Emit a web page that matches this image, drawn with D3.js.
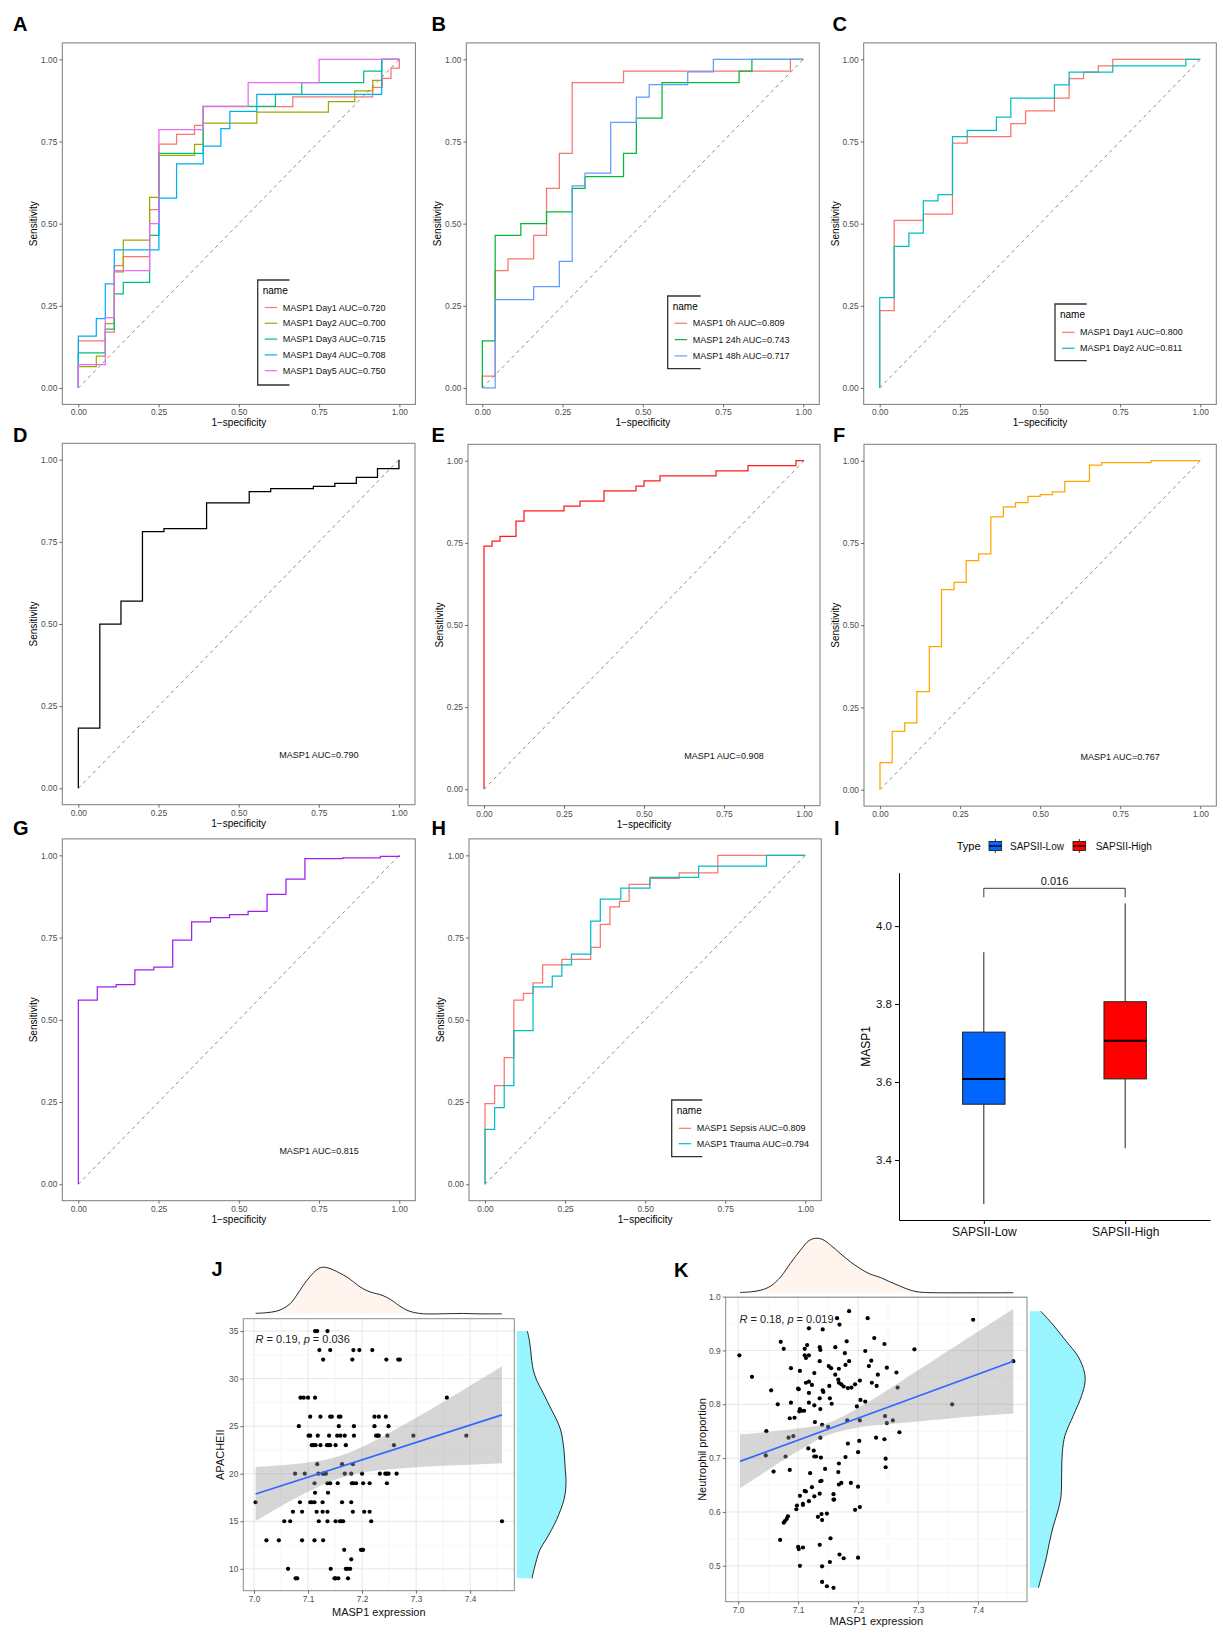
<!DOCTYPE html>
<html>
<head>
<meta charset="utf-8">
<title>MASP1 ROC, boxplot and correlation panels</title>
<script src="https://cdn.jsdelivr.net/npm/d3@7/dist/d3.min.js"></script>
<style>
  html, body { margin: 0; padding: 0; background: #fff; }
  svg { display: block; }
</style>
</head>
<body>
<svg id="fig" width="1223" height="1641"></svg>
<script>
// ---------------- ROC curves: step vertices [1-specificity, sensitivity] ----------------
// Each vertex is the end of a horizontal run at the given sensitivity level.
const rocA_day1 = [[0.084,0.143],[0.112,0.170],[0.140,0.372],[0.222,0.400],[0.251,0.543],[0.306,0.742],[0.362,0.772],[0.389,0.799],[0.668,0.856],[0.917,0.886],[0.947,0.915],[0.974,0.942],[1,0.973],[1,1]];
const rocA_day2 = [[0.056,0.065],[0.084,0.097],[0.112,0.196],[0.140,0.353],[0.222,0.450],[0.251,0.580],[0.362,0.708],[0.389,0.741],[0.556,0.806],[0.779,0.839],[0.861,0.871],[0.917,0.904],[0.945,0.936],[1,1]];
const rocA_day3 = [[0.084,0.107],[0.112,0.179],[0.140,0.286],[0.222,0.321],[0.251,0.464],[0.389,0.714],[0.614,0.857],[0.696,0.893],[0.889,0.929],[0.945,0.964],[1,1]];
const rocA_day4 = [[0.056,0.158],[0.084,0.211],[0.112,0.317],[0.251,0.420],[0.306,0.578],[0.389,0.682],[0.444,0.736],[0.472,0.789],[0.556,0.842],[0.945,0.893],[1,1]];
const rocA_day5 = [[0.084,0.071],[0.112,0.214],[0.222,0.357],[0.251,0.500],[0.389,0.786],[0.529,0.857],[0.750,0.929],[1,1]];
const legendA = ["MASP1 Day1 AUC=0.720","MASP1 Day2 AUC=0.700","MASP1 Day3 AUC=0.715","MASP1 Day4 AUC=0.708","MASP1 Day5 AUC=0.750"];

const rocB_0h  = [[0.04,0.036],[0.08,0.357],[0.16,0.393],[0.20,0.464],[0.24,0.607],[0.28,0.714],[0.44,0.929],[0.96,0.964],[1,1]];
const rocB_24h = [[0.04,0.143],[0.12,0.464],[0.20,0.500],[0.28,0.536],[0.32,0.607],[0.44,0.643],[0.48,0.714],[0.56,0.821],[0.80,0.929],[0.84,0.964],[1,1]];
const rocB_48h = [[0.04,0],[0.16,0.269],[0.24,0.308],[0.28,0.385],[0.32,0.615],[0.40,0.654],[0.48,0.808],[0.52,0.885],[0.64,0.923],[0.72,0.962],[1,1]];
const legendB = ["MASP1 0h AUC=0.809","MASP1 24h AUC=0.743","MASP1 48h AUC=0.717"];

const rocC_day1 = [[0.045,0.235],[0.136,0.510],[0.227,0.529],[0.273,0.745],[0.409,0.765],[0.455,0.804],[0.545,0.843],[0.591,0.882],[0.636,0.941],[0.682,0.961],[0.727,0.980],[1,1]];
const rocC_day2 = [[0.045,0.275],[0.091,0.431],[0.136,0.471],[0.182,0.569],[0.227,0.588],[0.273,0.765],[0.364,0.784],[0.409,0.824],[0.545,0.882],[0.591,0.922],[0.727,0.961],[0.955,0.980],[1,1]];
const legendC = ["MASP1 Day1 AUC=0.800","MASP1 Day2 AUC=0.811"];

const rocD = [[0.067,0.183],[0.133,0.500],[0.200,0.570],[0.267,0.781],[0.400,0.790],[0.533,0.869],[0.600,0.903],[0.733,0.912],[0.800,0.919],[0.867,0.928],[0.933,0.946],[1,0.973],[1,1]];
const rocE = [[0.025,0.740],[0.050,0.755],[0.100,0.770],[0.125,0.816],[0.250,0.847],[0.300,0.862],[0.375,0.877],[0.475,0.908],[0.500,0.923],[0.550,0.939],[0.725,0.954],[0.825,0.969],[0.975,0.985],[1,1]];
const rocF = [[0.038,0.082],[0.077,0.177],[0.115,0.203],[0.154,0.298],[0.192,0.435],[0.231,0.608],[0.269,0.630],[0.308,0.696],[0.346,0.717],[0.385,0.829],[0.423,0.860],[0.462,0.873],[0.500,0.892],[0.538,0.897],[0.577,0.905],[0.654,0.937],[0.692,0.987],[0.846,0.994],[1,1]];
const rocG = [[0.059,0.560],[0.118,0.600],[0.176,0.607],[0.235,0.652],[0.294,0.660],[0.353,0.742],[0.412,0.798],[0.471,0.811],[0.529,0.820],[0.588,0.830],[0.647,0.881],[0.706,0.928],[0.824,0.990],[0.941,0.992],[1,0.997],[1,1]];
const aucLabels = {D: "MASP1 AUC=0.790", E: "MASP1 AUC=0.908", F: "MASP1 AUC=0.767", G: "MASP1 AUC=0.815"};

const rocH_sepsis = [[0.03,0.245],[0.06,0.300],[0.09,0.385],[0.12,0.560],[0.15,0.580],[0.18,0.612],[0.24,0.667],[0.33,0.684],[0.36,0.720],[0.39,0.790],[0.42,0.843],[0.45,0.860],[0.515,0.912],[0.606,0.930],[0.727,0.947],[1,1]];
const rocH_trauma = [[0.03,0.167],[0.06,0.233],[0.09,0.300],[0.15,0.467],[0.21,0.600],[0.24,0.633],[0.27,0.667],[0.33,0.700],[0.36,0.800],[0.424,0.867],[0.515,0.900],[0.667,0.933],[0.879,0.967],[1,1]];
const legendH = ["MASP1 Sepsis AUC=0.809","MASP1 Trauma AUC=0.794"];

const rocTicks = [0, 0.25, 0.5, 0.75, 1];

// ---------------- Boxplot: MASP1 by SAPSII group ----------------
const boxGroups = ["SAPSII-Low", "SAPSII-High"];
const boxMin = [3.287, 3.430];
const boxQ1  = [3.543, 3.608];
const boxMed = [3.608, 3.706];
const boxQ3  = [3.728, 3.806];
const boxMax = [3.933, 4.058];
const boxFill = ["#0066FF", "#FF0000"];
const boxTicks = [3.4, 3.6, 3.8, 4.0];
const boxPLabel = "0.016";

// ---------------- Scatter J: APACHE II vs MASP1 expression ----------------
// [APACHE II score, MASP1 expression of the patients with that score]
const apacheRows = [
  [35, [7.113, 7.117, 7.136]],
  [33, [7.121, 7.141, 7.184, 7.195, 7.219]],
  [32, [7.128, 7.182, 7.245, 7.267, 7.270]],
  [28, [7.086, 7.092, 7.100, 7.113, 7.357]],
  [26, [7.104, 7.123, 7.141, 7.144, 7.157, 7.160, 7.223, 7.231, 7.244]],
  [25, [7.083, 7.157, 7.185, 7.223, 7.249]],
  [24, [7.101, 7.104, 7.118, 7.139, 7.154, 7.160, 7.168, 7.185, 7.226, 7.229, 7.231, 7.247, 7.295, 7.393]],
  [23, [7.107, 7.110, 7.114, 7.123, 7.135, 7.138, 7.141, 7.151, 7.170, 7.259]],
  [21, [7.117, 7.163, 7.183]],
  [20, [7.076, 7.094, 7.119, 7.127, 7.130, 7.133, 7.168, 7.180, 7.200, 7.233, 7.243, 7.246, 7.249, 7.264]],
  [19, [7.112, 7.136, 7.141, 7.155, 7.181, 7.184, 7.189, 7.202, 7.214, 7.246]],
  [18, [7.113, 7.137]],
  [17, [7.003, 7.085, 7.104, 7.107, 7.112, 7.127, 7.163, 7.180]],
  [16, [7.072, 7.089, 7.116, 7.127, 7.136, 7.183, 7.204, 7.214]],
  [15, [7.056, 7.067, 7.120, 7.136, 7.151, 7.159, 7.162, 7.165, 7.217, 7.459]],
  [13, [7.023, 7.046, 7.089, 7.112, 7.128]],
  [12, [7.167, 7.198, 7.200, 7.202]],
  [11, [7.180]],
  [10, [7.063, 7.142, 7.170, 7.173, 7.178]],
  [9,  [7.077, 7.080, 7.149, 7.151, 7.156, 7.174]]
];
// linear fit with 95% band: [MASP1, fit, lower, upper]
const fitJ = [[7.003,17.87,15.04,20.70],[7.05,18.73,16.58,20.88],[7.10,19.64,18.11,21.17],[7.15,20.55,19.37,21.73],[7.20,21.46,20.10,22.82],[7.25,22.37,20.46,24.28],[7.30,23.28,20.67,25.89],[7.35,24.19,20.83,27.55],[7.40,25.10,20.95,29.25],[7.459,26.19,21.09,31.29]];
// marginal densities (relative height)
const densTopJ = [[7.003,0.014],[7.023,0.028],[7.042,0.062],[7.054,0.118],[7.067,0.222],[7.079,0.403],[7.091,0.611],[7.104,0.806],[7.116,0.944],[7.125,1.0],[7.135,0.993],[7.147,0.944],[7.159,0.875],[7.172,0.792],[7.184,0.688],[7.196,0.583],[7.209,0.50],[7.221,0.451],[7.233,0.417],[7.246,0.354],[7.258,0.271],[7.270,0.167],[7.283,0.083],[7.295,0.035],[7.314,0.004],[7.338,0.002],[7.363,0.008],[7.388,0.012],[7.412,0.004],[7.437,0.002],[7.459,0.004]];
const densRightJ = [[35,0.216],[34.02,0.257],[32.98,0.284],[31.93,0.304],[30.88,0.338],[29.83,0.405],[28.79,0.507],[27.74,0.608],[26.69,0.709],[25.65,0.811],[24.60,0.892],[23.55,0.932],[22.51,0.959],[21.46,0.973],[20.41,0.986],[19.37,1.0],[18.32,0.993],[17.27,0.959],[16.22,0.892],[15.18,0.811],[14.13,0.709],[13.08,0.595],[12.04,0.473],[10.99,0.405],[9.94,0.351],[9,0.311]];
const statJ = ["0.19", "0.036"];

// ---------------- Scatter K: neutrophil proportion vs MASP1 expression ----------------
const neutroPoints = [
  [7.165,0.960],[7.185,0.973],[7.216,0.960],[7.169,0.948],[7.118,0.941],[7.141,0.939],[7.392,0.957],[7.227,0.923],
  [7.071,0.916],[7.181,0.917],[7.244,0.912],[7.115,0.910],[7.136,0.906],[7.162,0.906],[7.076,0.903],[7.111,0.903],
  [7.137,0.901],[7.212,0.899],[7.294,0.902],[7.111,0.891],[7.113,0.886],[7.118,0.891],[7.002,0.891],[7.178,0.895],
  [7.136,0.880],[7.185,0.880],[7.222,0.881],[7.459,0.880],[7.179,0.873],[7.151,0.871],[7.155,0.867],[7.218,0.871],
  [7.248,0.868],[7.088,0.867],[7.168,0.866],[7.103,0.862],[7.127,0.858],[7.264,0.859],[7.233,0.855],[7.162,0.855],
  [7.023,0.851],[7.100,0.829],[7.101,0.828],[7.167,0.846],[7.168,0.840],[7.113,0.840],[7.118,0.842],[7.123,0.836],
  [7.195,0.837],[7.203,0.844],[7.223,0.840],[7.172,0.837],[7.152,0.834],[7.176,0.833],[7.183,0.830],[7.189,0.831],
  [7.231,0.834],[7.266,0.831],[7.055,0.826],[7.141,0.826],[7.142,0.823],[7.118,0.821],[7.136,0.811],[7.153,0.811],
  [7.204,0.808],[7.212,0.805],[7.088,0.803],[7.066,0.800],[7.118,0.803],[7.127,0.798],[7.156,0.801],[7.198,0.796],
  [7.357,0.800],[7.137,0.791],[7.103,0.791],[7.102,0.787],[7.106,0.788],[7.110,0.788],[7.245,0.778],[7.086,0.774],
  [7.094,0.775],[7.182,0.770],[7.203,0.770],[7.258,0.770],[7.128,0.767],[7.140,0.762],[7.248,0.765],[7.150,0.758],
  [7.047,0.750],[7.269,0.748],[7.092,0.741],[7.084,0.738],[7.137,0.738],[7.230,0.738],[7.244,0.735],[7.202,0.732],
  [7.183,0.727],[7.117,0.718],[7.126,0.714],[7.200,0.711],[7.046,0.705],[7.079,0.703],[7.127,0.703],[7.130,0.703],
  [7.138,0.701],[7.179,0.702],[7.246,0.699],[7.168,0.690],[7.246,0.683],[7.145,0.680],[7.086,0.678],[7.059,0.675],
  [7.167,0.674],[7.120,0.672],[7.137,0.657],[7.139,0.658],[7.168,0.651],[7.172,0.654],[7.188,0.654],[7.123,0.646],
  [7.200,0.647],[7.111,0.639],[7.113,0.638],[7.159,0.633],[7.136,0.634],[7.127,0.629],[7.103,0.630],[7.159,0.623],
  [7.160,0.623],[7.118,0.620],[7.108,0.615],[7.108,0.613],[7.098,0.612],[7.203,0.609],[7.195,0.604],[7.097,0.605],
  [7.148,0.597],[7.139,0.596],[7.133,0.591],[7.083,0.592],[7.140,0.585],[7.081,0.587],[7.078,0.583],[7.076,0.580],
  [7.154,0.551],[7.070,0.548],[7.136,0.539],[7.100,0.535],[7.101,0.531],[7.108,0.534],[7.169,0.521],[7.176,0.514],
  [7.200,0.515],[7.153,0.507],[7.103,0.500],[7.140,0.499],[7.140,0.470],[7.148,0.462],[7.159,0.459]
];
const fitK = [[7.003,0.694,0.644,0.744],[7.05,0.7136,0.678,0.749],[7.10,0.734,0.713,0.755],[7.15,0.7544,0.743,0.765],[7.20,0.7748,0.757,0.793],[7.25,0.7952,0.763,0.827],[7.30,0.8156,0.768,0.863],[7.35,0.836,0.773,0.899],[7.40,0.8564,0.778,0.935],[7.459,0.880,0.783,0.977]];
const densTopK = [[7.003,0.006],[7.021,0.018],[7.038,0.049],[7.054,0.123],[7.071,0.294],[7.087,0.540],[7.104,0.785],[7.118,0.957],[7.129,1.0],[7.140,0.982],[7.154,0.877],[7.170,0.724],[7.187,0.571],[7.203,0.448],[7.220,0.344],[7.237,0.282],[7.253,0.202],[7.270,0.123],[7.287,0.049],[7.303,0.012],[7.325,0.002],[7.353,0],[7.381,0],[7.408,0],[7.436,0],[7.459,0.002]];
const densRightK = [[0.973,0.194],[0.947,0.424],[0.916,0.667],[0.888,0.879],[0.860,0.988],[0.841,1.0],[0.816,0.939],[0.779,0.788],[0.742,0.636],[0.711,0.588],[0.674,0.576],[0.630,0.564],[0.605,0.515],[0.574,0.424],[0.543,0.352],[0.518,0.303],[0.493,0.242],[0.459,0.152]];
const statK = ["0.18", "0.019"];

const exprTicks = [7.0, 7.1, 7.2, 7.3, 7.4];

// ---------------- drawing ----------------
const FONT = '"Liberation Sans", Arial, Helvetica, sans-serif';
const svg = d3.select("#fig").attr("font-family", FONT);
const hue5 = ["#F8766D", "#A3A500", "#00BF7D", "#00B0F6", "#E76BF3"];
const hue3 = ["#F8766D", "#00BA38", "#619CFF"];
const hue2 = ["#F8766D", "#00BFC4"];

function panelLetter(txt, x, y) {
  svg.append("text").attr("x", x).attr("y", y).text(txt)
    .attr("font-size", 20).attr("font-weight", "bold").attr("fill", "#000");
}

function styleAxis(g, size, color) {
  g.attr("font-family", FONT).attr("font-size", size);
  g.selectAll(".tick line").attr("stroke", "#333").attr("stroke-width", 0.7);
  g.selectAll(".tick text").attr("fill", color);
}

function rocPanel(box, series, opt) {
  const g = svg.append("g");
  const x = d3.scaleLinear().domain([-0.05, 1.05]).range([box.l, box.r]);
  const y = d3.scaleLinear().domain([-0.05, 1.05]).range([box.b, box.t]);
  g.append("rect").attr("x", box.l).attr("y", box.t).attr("width", box.r - box.l).attr("height", box.b - box.t)
    .attr("fill", "#fff");
  g.append("line").attr("x1", x(0)).attr("y1", y(0)).attr("x2", x(1)).attr("y2", y(1))
    .attr("stroke", "#8c8c8c").attr("stroke-width", 1).attr("stroke-dasharray", "3.5,3.5");
  const step = d3.line().x(d => x(d[0])).y(d => y(d[1])).curve(d3.curveStepBefore);
  series.forEach(s => {
    g.append("path").attr("d", step([[0, 0], ...s.pts])).attr("fill", "none")
      .attr("stroke", s.color).attr("stroke-width", 1.25);
  });
  g.append("rect").attr("x", box.l).attr("y", box.t).attr("width", box.r - box.l).attr("height", box.b - box.t)
    .attr("fill", "none").attr("stroke", "#7a7a7a").attr("stroke-width", 1);
  const fmt = d3.format(".2f");
  const xa = g.append("g").attr("transform", `translate(0,${box.b})`)
    .call(d3.axisBottom(x).tickValues(rocTicks).tickFormat(fmt).tickSize(3).tickPadding(2));
  xa.select(".domain").remove();
  styleAxis(xa, 8.4, "#4d4d4d");
  const ya = g.append("g").attr("transform", `translate(${box.l},0)`)
    .call(d3.axisLeft(y).tickValues(rocTicks).tickFormat(fmt).tickSize(3).tickPadding(2));
  ya.select(".domain").remove();
  styleAxis(ya, 8.4, "#4d4d4d");
  if (opt.xTitle !== false) {
    g.append("text").attr("x", (box.l + box.r) / 2).attr("y", box.b + 22).attr("text-anchor", "middle")
      .attr("font-size", 10).attr("fill", "#000").text("1\u2212specificity");
  }
  g.append("text").attr("transform", `translate(${box.l - 25},${(box.t + box.b) / 2}) rotate(-90)`)
    .attr("text-anchor", "middle").attr("font-size", 10).attr("fill", "#000").text("Sensitivity");
  if (opt.auc) {
    g.append("text").attr("x", x(0.75)).attr("y", y(0.1)).attr("text-anchor", "middle")
      .attr("dominant-baseline", "central").attr("font-size", 9).attr("fill", "#111").text(opt.auc);
  }
  if (opt.legend) {
    const L = opt.legend;
    g.append("path").attr("d", `M${L.r},${L.t}H${L.l}V${L.b}H${L.r}`).attr("fill", "none")
      .attr("stroke", "#333").attr("stroke-width", 1.3);
    g.append("text").attr("x", L.l + 5).attr("y", L.titleY).attr("dominant-baseline", "central")
      .attr("font-size", 10).attr("fill", "#000").text("name");
    series.forEach((s, i) => {
      const yy = L.y0 + i * L.dy;
      g.append("line").attr("x1", L.l + 7).attr("x2", L.l + 19.5).attr("y1", yy).attr("y2", yy)
        .attr("stroke", s.color).attr("stroke-width", 1.2);
      g.append("text").attr("x", L.l + 25).attr("y", yy).attr("dominant-baseline", "central")
        .attr("font-size", 9).attr("fill", "#111").text(s.label);
    });
  }
}

// Panel A
rocPanel({l: 62.3, t: 42.9, r: 415.4, b: 404.4},
  [rocA_day1, rocA_day2, rocA_day3, rocA_day4, rocA_day5].map((p, i) => ({pts: p, color: hue5[i], label: legendA[i]})),
  {legend: {l: 257.7, r: 289.5, t: 280, b: 385, titleY: 290.5, y0: 307.5, dy: 15.8}});
// Panel B
rocPanel({l: 466.3, t: 42.9, r: 819.3, b: 404.4},
  [rocB_0h, rocB_24h, rocB_48h].map((p, i) => ({pts: p, color: hue3[i], label: legendB[i]})),
  {legend: {l: 667.7, r: 700.7, t: 296, b: 368.7, titleY: 306.7, y0: 323.3, dy: 16.3}});
// Panel C
rocPanel({l: 863.7, t: 42.9, r: 1216.3, b: 404.4},
  [rocC_day1, rocC_day2].map((p, i) => ({pts: p, color: hue2[i], label: legendC[i]})),
  {legend: {l: 1055, r: 1086.7, t: 304, b: 360.7, titleY: 314.3, y0: 332.3, dy: 16}});
// Panels D-G
rocPanel({l: 62.3, t: 443.3, r: 415, b: 804.7}, [{pts: rocD, color: "#000000"}], {auc: aucLabels.D});
rocPanel({l: 468, t: 444.3, r: 820, b: 805.7}, [{pts: rocE, color: "#FF1A1A"}], {auc: aucLabels.E});
rocPanel({l: 864, t: 444.3, r: 1216.3, b: 806.1}, [{pts: rocF, color: "#FFA500"}], {auc: aucLabels.F, xTitle: false});
rocPanel({l: 62.3, t: 838.9, r: 415.3, b: 1200.7}, [{pts: rocG, color: "#A020F0"}], {auc: aucLabels.G});
// Panel H
rocPanel({l: 469, t: 838.9, r: 821.3, b: 1200.7},
  [rocH_sepsis, rocH_trauma].map((p, i) => ({pts: p, color: hue2[i], label: legendH[i]})),
  {legend: {l: 671.7, r: 702.3, t: 1100, b: 1156.7, titleY: 1110.7, y0: 1128.3, dy: 15.4}});

// ---------------- Panel I: boxplot ----------------
(function () {
  const g = svg.append("g");
  const x = d3.scalePoint().domain(boxGroups).range([899, 1210]).padding(0.6);
  const y = d3.scaleLinear().domain([3.246, 4.137]).range([1220, 872.7]);
  const bw = x.step() * 0.3;
  boxGroups.forEach((grp, i) => {
    const cx = x(grp);
    g.append("line").attr("x1", cx).attr("x2", cx).attr("y1", y(boxMax[i])).attr("y2", y(boxQ3[i]))
      .attr("stroke", "#222").attr("stroke-width", 1);
    g.append("line").attr("x1", cx).attr("x2", cx).attr("y1", y(boxQ1[i])).attr("y2", y(boxMin[i]))
      .attr("stroke", "#222").attr("stroke-width", 1);
    g.append("rect").attr("x", cx - bw / 2).attr("width", bw).attr("y", y(boxQ3[i]))
      .attr("height", y(boxQ1[i]) - y(boxQ3[i])).attr("fill", boxFill[i]).attr("stroke", "#222").attr("stroke-width", 1);
    g.append("line").attr("x1", cx - bw / 2).attr("x2", cx + bw / 2).attr("y1", y(boxMed[i])).attr("y2", y(boxMed[i]))
      .attr("stroke", "#000").attr("stroke-width", 2);
  });
  // significance bracket
  const by = 888.3;
  const x1 = x(boxGroups[0]), x2 = x(boxGroups[1]);
  g.append("path").attr("d", `M${x1},${by + 9}V${by}H${x2}V${by + 9}`).attr("fill", "none")
    .attr("stroke", "#222").attr("stroke-width", 0.9);
  g.append("text").attr("x", (x1 + x2) / 2).attr("y", by - 7).attr("text-anchor", "middle")
    .attr("dominant-baseline", "central").attr("font-size", 11).attr("fill", "#111").text(boxPLabel);
  // axes
  const ya = g.append("g").attr("transform", "translate(899,0)")
    .call(d3.axisLeft(y).tickValues(boxTicks).tickFormat(d3.format(".1f")).tickSize(4).tickSizeOuter(0).tickPadding(3));
  ya.attr("font-family", FONT).attr("font-size", 11.5);
  ya.select(".domain").attr("stroke", "#000").attr("stroke-width", 1);
  ya.selectAll(".tick line").attr("stroke", "#000");
  ya.selectAll(".tick text").attr("fill", "#111");
  const xa = g.append("g").attr("transform", "translate(0,1220)")
    .call(d3.axisBottom(x).tickSize(4).tickSizeOuter(0).tickPadding(3));
  xa.attr("font-family", FONT).attr("font-size", 12);
  xa.select(".domain").attr("stroke", "#000").attr("stroke-width", 1);
  xa.selectAll(".tick line").attr("stroke", "#000");
  xa.selectAll(".tick text").attr("fill", "#111");
  g.append("text").attr("transform", `translate(866,${(872.7 + 1220) / 2}) rotate(-90)`)
    .attr("text-anchor", "middle").attr("dominant-baseline", "central").attr("font-size", 12).attr("fill", "#000").text("MASP1");
  // legend
  const ly = 846;
  g.append("text").attr("x", 956.7).attr("y", ly).attr("dominant-baseline", "central")
    .attr("font-size", 11).attr("fill", "#000").text("Type");
  const keyX = [989, 1073], labX = [1010, 1095.7];
  boxGroups.forEach((grp, i) => {
    const kx = keyX[i], kc = kx + 6.3;
    g.append("line").attr("x1", kc).attr("x2", kc).attr("y1", ly - 7).attr("y2", ly + 7).attr("stroke", "#222").attr("stroke-width", 0.9);
    g.append("rect").attr("x", kx).attr("y", ly - 4.5).attr("width", 12.6).attr("height", 9)
      .attr("fill", boxFill[i]).attr("stroke", "#222").attr("stroke-width", 0.9);
    g.append("line").attr("x1", kx).attr("x2", kx + 12.6).attr("y1", ly).attr("y2", ly).attr("stroke", "#000").attr("stroke-width", 1.3);
    g.append("text").attr("x", labX[i]).attr("y", ly).attr("dominant-baseline", "central")
      .attr("font-size", 10).attr("fill", "#111").text(grp);
  });
})();

// ---------------- Panels J, K: scatter with marginal densities ----------------
function scatterPanel(cfg) {
  const g = svg.append("g");
  const b = cfg.box;
  const xe = d3.extent(cfg.pts, d => d[0]), ye = d3.extent(cfg.pts, d => d[1]);
  const xp = (xe[1] - xe[0]) * 0.05, yp = (ye[1] - ye[0]) * 0.05;
  const x = d3.scaleLinear().domain([xe[0] - xp, xe[1] + xp]).range([b.l, b.r]);
  const y = d3.scaleLinear().domain([ye[0] - yp, ye[1] + yp]).range([b.b, b.t]);

  // grid
  const xMinor = exprTicks.map(v => v + 0.05).concat([exprTicks[0] - 0.05]).filter(v => v > x.domain()[0] && v < x.domain()[1]);
  const yStep = cfg.yTicks[1] - cfg.yTicks[0];
  const yMinor = cfg.yTicks.map(v => v + yStep / 2).concat([cfg.yTicks[0] - yStep / 2]).filter(v => v > y.domain()[0] && v < y.domain()[1]);
  xMinor.forEach(v => g.append("line").attr("x1", x(v)).attr("x2", x(v)).attr("y1", b.t).attr("y2", b.b).attr("stroke", "#f2f2f2").attr("stroke-width", 0.6));
  yMinor.forEach(v => g.append("line").attr("y1", y(v)).attr("y2", y(v)).attr("x1", b.l).attr("x2", b.r).attr("stroke", "#f2f2f2").attr("stroke-width", 0.6));
  exprTicks.forEach(v => g.append("line").attr("x1", x(v)).attr("x2", x(v)).attr("y1", b.t).attr("y2", b.b).attr("stroke", "#e6e6e6").attr("stroke-width", 1));
  cfg.yTicks.forEach(v => g.append("line").attr("y1", y(v)).attr("y2", y(v)).attr("x1", b.l).attr("x2", b.r).attr("stroke", "#e6e6e6").attr("stroke-width", 1));

  // points
  g.append("g").selectAll("circle").data(cfg.pts).join("circle")
    .attr("cx", d => x(d[0])).attr("cy", d => y(d[1])).attr("r", 2.1).attr("fill", "#000");

  // confidence band and fitted line
  const band = d3.area().x(d => x(d[0])).y0(d => y(d[2])).y1(d => y(d[3])).curve(d3.curveMonotoneX);
  g.append("path").attr("d", band(cfg.fit)).attr("fill", "#999999").attr("fill-opacity", 0.4);
  const fl = cfg.fit;
  g.append("line").attr("x1", x(fl[0][0])).attr("y1", y(fl[0][1])).attr("x2", x(fl[fl.length - 1][0])).attr("y2", y(fl[fl.length - 1][1]))
    .attr("stroke", "#3366FF").attr("stroke-width", 1.7);

  // border
  g.append("rect").attr("x", b.l).attr("y", b.t).attr("width", b.r - b.l).attr("height", b.b - b.t)
    .attr("fill", "none").attr("stroke", "#8a8a8a").attr("stroke-width", 1);

  // axes
  const xa = g.append("g").attr("transform", `translate(0,${b.b})`)
    .call(d3.axisBottom(x).tickValues(exprTicks).tickFormat(d3.format(".1f")).tickSize(3).tickPadding(2));
  xa.select(".domain").remove();
  styleAxis(xa, 8.4, "#4d4d4d");
  const ya = g.append("g").attr("transform", `translate(${b.l},0)`)
    .call(d3.axisLeft(y).tickValues(cfg.yTicks).tickFormat(cfg.yFmt).tickSize(3).tickPadding(2));
  ya.select(".domain").remove();
  styleAxis(ya, 8.4, "#4d4d4d");
  g.append("text").attr("x", (b.l + b.r) / 2).attr("y", b.b + cfg.xTitleDy).attr("text-anchor", "middle")
    .attr("dominant-baseline", "central").attr("font-size", 11).attr("fill", "#111").text("MASP1 expression");
  g.append("text").attr("transform", `translate(${cfg.yTitleX},${(b.t + b.b) / 2}) rotate(-90)`)
    .attr("text-anchor", "middle").attr("dominant-baseline", "central").attr("font-size", 11).attr("fill", "#111").text(cfg.yTitle);

  // correlation label
  const st = g.append("text").attr("x", x(xe[0])).attr("y", y(ye[1]) + 8).attr("dominant-baseline", "central")
    .attr("font-size", 11).attr("fill", "#222");
  st.append("tspan").attr("font-style", "italic").text("R");
  st.append("tspan").text(` = ${cfg.stat[0]}, `);
  st.append("tspan").attr("font-style", "italic").text("p");
  st.append("tspan").text(` = ${cfg.stat[1]}`);

  // top marginal density
  const T = cfg.top;
  const topArea = d3.area().x(d => x(d[0])).y0(T.base).y1(d => T.base - d[1] * T.h).curve(d3.curveCatmullRom);
  const topLine = d3.line().x(d => x(d[0])).y(d => T.base - d[1] * T.h).curve(d3.curveCatmullRom);
  g.append("path").attr("d", topArea(cfg.densTop)).attr("fill", "#FFF5EE");
  g.append("path").attr("d", topLine(cfg.densTop)).attr("fill", "none").attr("stroke", "#111").attr("stroke-width", 0.9);

  // right marginal density
  const R = cfg.right;
  const rArea = d3.area().y(d => y(d[0])).x0(R.base).x1(d => R.base + d[1] * R.w).curve(d3.curveCatmullRom);
  const rLine = d3.line().y(d => y(d[0])).x(d => R.base + d[1] * R.w).curve(d3.curveCatmullRom);
  g.append("path").attr("d", rArea(cfg.densRight)).attr("fill", "#98F5FF");
  g.append("path").attr("d", rLine(cfg.densRight)).attr("fill", "none").attr("stroke", "#111").attr("stroke-width", 0.9);
}

const apachePoints = apacheRows.flatMap(([score, xs]) => xs.map(v => [v, score]));
scatterPanel({
  box: {l: 243.3, t: 1318.7, r: 514.3, b: 1590.7},
  pts: apachePoints, yTicks: [10, 15, 20, 25, 30, 35], yFmt: d3.format("d"),
  fit: fitJ, stat: statJ, yTitle: "APACHEII", yTitleX: 220, xTitleDy: 21,
  densTop: densTopJ, densRight: densRightJ,
  top: {base: 1314, h: 46.7}, right: {base: 516.7, w: 49.3}
});
scatterPanel({
  box: {l: 725.7, t: 1297.3, r: 1027, b: 1601.7},
  pts: neutroPoints, yTicks: [0.5, 0.6, 0.7, 0.8, 0.9, 1.0], yFmt: d3.format(".1f"),
  fit: fitK, stat: statK, yTitle: "Neutrophil proportion", yTitleX: 702, xTitleDy: 19,
  densTop: densTopK, densRight: densRightK,
  top: {base: 1292.8, h: 54.5}, right: {base: 1030, w: 55}
});

// panel letters
panelLetter("A", 13, 31);
panelLetter("B", 431.5, 31);
panelLetter("C", 832.5, 31);
panelLetter("D", 13, 442);
panelLetter("E", 431.5, 442);
panelLetter("F", 833, 442);
panelLetter("G", 13, 835);
panelLetter("H", 431.5, 835);
panelLetter("I", 834, 835);
panelLetter("J", 211.5, 1276);
panelLetter("K", 674, 1277);
</script>
</body>
</html>
